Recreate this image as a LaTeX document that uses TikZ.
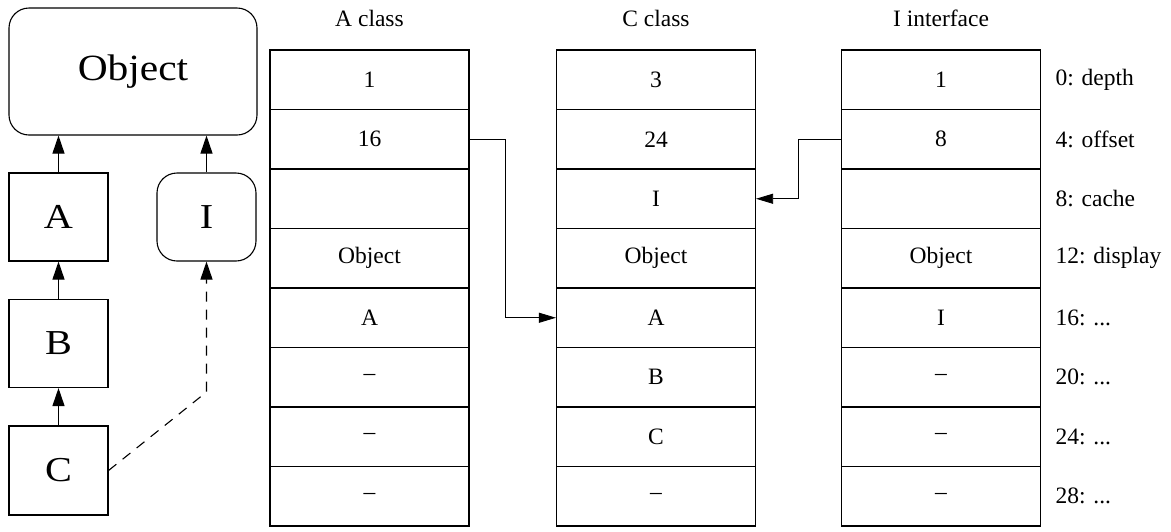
\documentclass[tikz,border=0pt]{standalone}
\usepackage{fontspec}
\setmainfont{Liberation Serif}
\usetikzlibrary{arrows.meta}
\newcommand\offdots{...}

\begin{document}
\begin{tikzpicture}[x=1pt,y=-1pt,line width=1.1pt,
  cell/.style={draw,minimum width=199pt,minimum height=59.5pt,inner sep=0pt,
    font=\fontsize{23.5}{27}\selectfont},
  lbl/.style={font=\fontsize{23.5}{27}\selectfont,inner sep=0pt},
  cls/.style={draw,inner sep=0pt,font=\fontsize{35}{40}\selectfont},
  inh/.style={-{Triangle[length=18pt,width=12pt]}},
  ptr/.style={line width=.8pt,-{Triangle[length=17pt,width=10pt]}}]
\useasboundingbox (0,0) rectangle (1171,531);

% class hierarchy
\node[cls,rounded corners=20pt,minimum width=248pt,minimum height=127pt] (obj) at (133,71.5) {\scalebox{1.12}[1]{\fontsize{37}{42}\selectfont Object}};
\node[cls,minimum width=99pt,minimum height=88pt] (a) at (58.5,217) {\scalebox{1.15}[1]{A}};
\node[cls,minimum width=99pt,minimum height=88pt] (b) at (58.5,343.5) {\scalebox{1.15}[1]{B}};
\node[cls,minimum width=99pt,minimum height=89pt] (c) at (58.5,470.5) {\scalebox{1.15}[1]{C}};
\node[cls,rounded corners=20pt,minimum width=99pt,minimum height=88pt] (i) at (206.5,217) {\scalebox{1.15}[1]{I}};

\draw[inh] (a) -- (a |- obj.south);
\draw[inh] (i) -- (i |- obj.south);
\draw[inh] (b) -- (a);
\draw[inh] (c) -- (b);
\draw[inh,dash pattern=on 10pt off 8pt] (c.east) -- (i.south |- 0,392) -- (i.south);

% tables
\node[lbl] (ahead) at (369.5,18) {A class};
\node[lbl] (chead) at (656,18) {C class};
\node[lbl] (ihead) at (941,18) {I interface};

\foreach \t [count=\r] in {1,16,{},Object,A,\textendash,\textendash,\textendash}
  \node[cell] (a\r) at (369.5,{20.25+59.5*\r}) {\t};
\foreach \t [count=\r] in {3,24,I,Object,A,B,C,\textendash}
  \node[cell] (c\r) at (656,{20.25+59.5*\r}) {\t};
\foreach \t [count=\r] in {1,8,{},Object,I,\textendash,\textendash,\textendash}
  \node[cell] (i\r) at (941,{20.25+59.5*\r}) {\t};
\foreach \t [count=\r] in {0: depth,4: offset,8: cache,12: display,16: \offdots,20: \offdots,24: \offdots,28: \offdots}
  \node[lbl,anchor=west] (off\r) at (1055,{20.25+59.5*\r}) {\t};

\draw[ptr] (a2.east) -- ++(36,0) |- (c5.west);
\draw[ptr] (i2.west) -- ++(-43,0) |- (c3.east);
\end{tikzpicture}
\end{document}
